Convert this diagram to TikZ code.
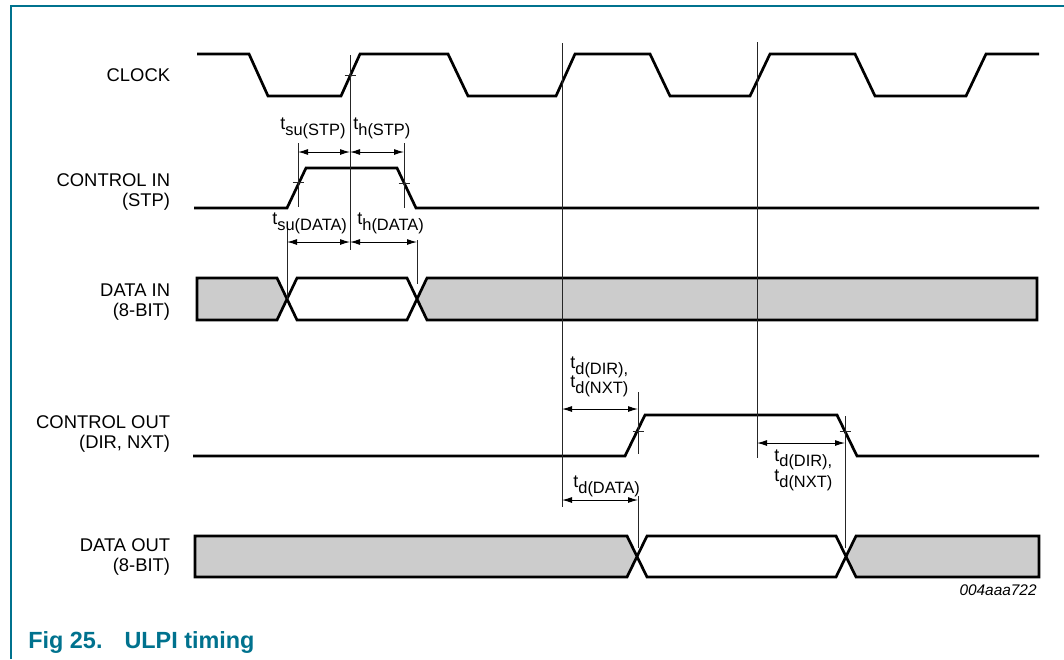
\documentclass[tikz,border=0pt]{standalone}
\usepackage{fontspec}
\setmainfont{Liberation Sans}
\usetikzlibrary{arrows.meta}
\definecolor{nxpteal}{RGB}{0,114,142}
\definecolor{wavegray}{RGB}{204,204,204}
\newcommand\tsb[1]{t\raisebox{-2.75pt}[0pt][0pt]{\fontsize{8.2}{9}\selectfont #1}}
\begin{document}
\begin{tikzpicture}[x=0.5pt,y=-0.5pt,
  wave/.style={line width=1.35pt, black},
  busfill/.style={fill=wavegray},
  guide/.style={line width=0.5pt, black!85},
  tick/.style={line width=0.5pt, black!85},
  dimarrow/.style={line width=0.5pt, {Latex[length=5pt,width=3pt]}-{Latex[length=5pt,width=3pt]}},
  sig/.style={font=\fontsize{9.2}{10}\selectfont, inner sep=0pt, anchor=base east},
  tlab/.style={inner sep=0pt, anchor=base west},
]
\useasboundingbox (0,0) rectangle (1064,659);

% frame
\draw[nxpteal, line width=1pt] (11,659) -- (11,6) -- (1064,6);

% signal labels
\node[sig] (lclk) at (170.5,81) {CLOCK};
\node[sig] (lcin) at (170.5,186) {\begin{tabular}[t]{@{}r@{}}CONTROL IN\\(STP)\end{tabular}};
\node[sig] (ldin) at (170.5,296) {\begin{tabular}[t]{@{}r@{}}DATA IN\\(8-BIT)\end{tabular}};
\node[sig] (lcout) at (170.5,428) {\begin{tabular}[t]{@{}r@{}}CONTROL OUT\\(DIR, NXT)\end{tabular}};
\node[sig] (ldout) at (170.5,551) {\begin{tabular}[t]{@{}r@{}}DATA OUT\\(8-BIT)\end{tabular}};

% CLOCK
\draw[wave] (197,54) -- (249,54) -- (268,96) -- (341,96) -- (360,54) -- (448,54)
  -- (468,96) -- (556,96) -- (575,54) -- (650,54) -- (670,96) -- (750,96)
  -- (770,54) -- (855,54) -- (875,96) -- (966,96) -- (986,54) -- (1039,54);

% CONTROL IN
\draw[wave] (194,208) -- (287,208) -- (306,168) -- (397,168) -- (416,208) -- (1039,208);

% DATA IN
\fill[busfill] (197,278) -- (277,278) -- (287,299) -- (277,320) -- (197,320) -- cycle;
\fill[busfill] (417,299) -- (427,278) -- (1037,278) -- (1037,320) -- (427,320) -- cycle;
\draw[wave] (197,278) -- (277,278) -- (297,320) -- (407,320) -- (427,278) -- (1037,278)
  -- (1037,320) -- (427,320) -- (407,278) -- (297,278) -- (277,320) -- (197,320) -- cycle;

% CONTROL OUT
\draw[wave] (193,456) -- (625,456) -- (645,415) -- (837,415) -- (857,456) -- (1039,456);

% DATA OUT
\fill[busfill] (195,536) -- (627,536) -- (637,556.5) -- (627,577) -- (195,577) -- cycle;
\fill[busfill] (846,556.5) -- (856,536) -- (1039,536) -- (1039,577) -- (856,577) -- cycle;
\draw[wave] (195,536) -- (627,536) -- (647,577) -- (836,577) -- (856,536) -- (1039,536)
  -- (1039,577) -- (856,577) -- (836,536) -- (647,536) -- (627,577) -- (195,577) -- cycle;

% guide lines
\draw[guide] (350,55) -- (350,250);
\draw[guide] (562,43) -- (562,507);
\draw[guide] (757,42) -- (757,458);
\draw[guide] (298,143) -- (298,207);
\draw[guide] (404,143) -- (404,208);
\draw[guide] (287,222) -- (287,299);
\draw[guide] (417,240) -- (417,284);
\draw[guide] (638,392) -- (638,454);
\draw[guide] (638,496) -- (638,548);
\draw[guide] (845,416) -- (845,548);

% ticks at 50% points
\draw[tick] (344.5,75) -- (355.5,75);
\draw[tick] (292.5,182) -- (303.5,182);
\draw[tick] (398.5,183) -- (409.5,183);
\draw[tick] (632.5,431) -- (643.5,431);
\draw[tick] (839.5,431) -- (850.5,431);

% dimension coordinates
\coordinate (sS1) at (298,152);
\coordinate (sS2) at (350,152);
\coordinate (hS2) at (404,152);
\coordinate (sD1) at (287,242);
\coordinate (sD2) at (350,242);
\coordinate (hD2) at (417,242);
\coordinate (dA1) at (562,409);
\coordinate (dA2) at (638,409);
\coordinate (dD1) at (562,500);
\coordinate (dD2) at (638,500);
\coordinate (dB1) at (757,443);
\coordinate (dB2) at (845,443);

\draw[dimarrow] (sS1) -- (sS2);
\draw[dimarrow] (sS2) -- (hS2);
\draw[dimarrow] (sD1) -- (sD2);
\draw[dimarrow] (sD2) -- (hD2);
\draw[dimarrow] (dA1) -- (dA2);
\draw[dimarrow] (dD1) -- (dD2);
\draw[dimarrow] (dB1) -- (dB2);

% timing labels
\node[tlab, font=\fontsize{9}{9.5}\selectfont] (tsuSTP) at (280,129.5) {\tsb{su(STP)}};
\node[tlab, font=\fontsize{9}{9.5}\selectfont] (thSTP) at (353,129.5) {\tsb{h(STP)}};
\node[tlab, font=\fontsize{9}{9.5}\selectfont] (tsuDATA) at (272,224.5) {\tsb{su(DATA)}};
\node[tlab, font=\fontsize{9}{9.5}\selectfont] (thDATA) at (357,224.5) {\tsb{h(DATA)}};
\node[tlab, font=\fontsize{9}{9.5}\selectfont] (tdA) at (570,368.5) {\begin{tabular}[t]{@{}l@{}}\tsb{d(DIR),}\\\tsb{d(NXT)}\end{tabular}};
\node[tlab, font=\fontsize{9}{9.5}\selectfont] (tdD) at (573,487.5) {\tsb{d(DATA)}};
\node[tlab, font=\fontsize{9}{10.25}\selectfont] (tdB) at (774,461) {\begin{tabular}[t]{@{}l@{}}\tsb{d(DIR),}\\\tsb{d(NXT)}\end{tabular}};

% figure id and caption
\node[anchor=base east, inner sep=0pt, font=\fontsize{7.7}{8}\selectfont\itshape] (fid) at (1037,595) {004aaa722};
\node[anchor=base west, inner sep=0pt, text=nxpteal, font=\fontsize{11.7}{12}\selectfont\bfseries] (cap) at (28,648) {Fig 25.\hspace{11pt}ULPI timing};
\end{tikzpicture}
\end{document}
